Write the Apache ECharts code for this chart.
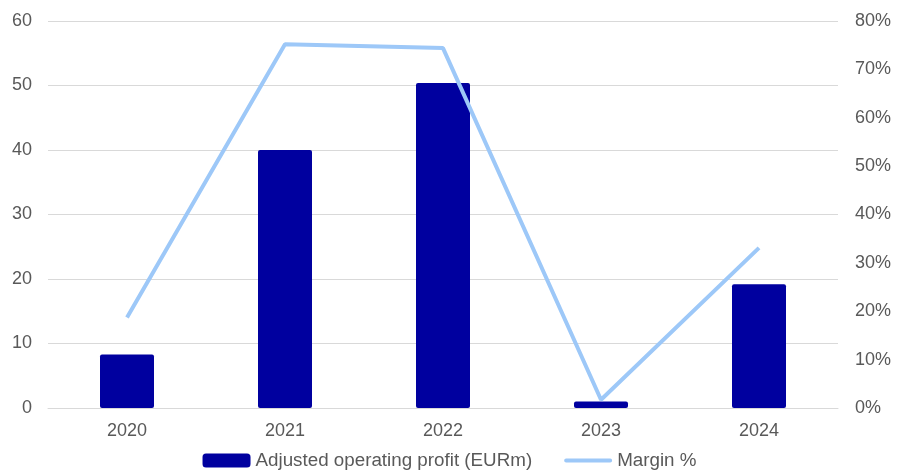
<!DOCTYPE html>
<html>
<head>
<meta charset="utf-8">
<script src="https://cdn.jsdelivr.net/npm/echarts@6/dist/echarts.min.js"></script>
<style>
  html, body { margin: 0; padding: 0; background: #fff; }
  #chart { width: 899px; height: 470px; }
</style>
</head>
<body>
<div id="chart"></div>
<script>
// Yearly figures
const years = ['2020', '2021', '2022', '2023', '2024'];
const operatingProfit = [8.3, 40.0, 50.4, 1.0, 19.2];   // EURm
const marginPct = [18.7, 75.2, 74.4, 1.7, 33.1];         // %

const labelColor = '#595959';
const gridColor = '#d9d9d9';
const barColor = '#00009f';
const lineColor = '#9dc8f8';
const font = 'Liberation Sans, Arial, sans-serif';

// Thin horizontal stroke for the line-series legend entry (tiny corner marks keep its box 48x14)
const lineIcon = 'path://M0,0L0.01,0L0.01,0.01ZM0,14L0.01,14L0.01,13.99ZM2,5H46A2,2 0 0 1 46,9H2A2,2 0 0 1 2,5Z';

const chart = echarts.init(document.getElementById('chart'));
chart.setOption({
  animation: false,
  grid: { left: 48, right: 61, top: 21, bottom: 62 },
  legend: {
    top: 446,
    left: 'center',
    itemWidth: 48,
    itemHeight: 14,
    itemGap: 32,
    textStyle: { color: labelColor, fontSize: 18.8, fontFamily: font },
    data: [
      { name: 'Adjusted operating profit (EURm)', icon: 'roundRect' },
      { name: 'Margin %', icon: lineIcon, itemStyle: { color: lineColor } }
    ]
  },
  xAxis: {
    type: 'category',
    data: years,
    z: 3,
    axisTick: { show: false },
    axisLine: { lineStyle: { color: gridColor, width: 1 } },
    axisLabel: { color: labelColor, fontSize: 18, fontFamily: font, margin: 14 }
  },
  yAxis: [
    {
      type: 'value', min: 0, max: 60, interval: 10,
      axisLine: { show: false }, axisTick: { show: false },
      splitLine: { lineStyle: { color: gridColor } },
      axisLabel: { color: labelColor, fontSize: 18, fontFamily: font, margin: 16 }
    },
    {
      type: 'value', min: 0, max: 80, interval: 10,
      axisLine: { show: false }, axisTick: { show: false },
      splitLine: { show: false },
      axisLabel: { color: labelColor, fontSize: 18, fontFamily: font, margin: 17, formatter: '{value}%' }
    }
  ],
  series: [
    {
      name: 'Adjusted operating profit (EURm)',
      type: 'bar',
      data: operatingProfit,
      barWidth: 54,
      itemStyle: { color: barColor, borderRadius: 2 }
    },
    {
      name: 'Margin %',
      type: 'line',
      yAxisIndex: 1,
      data: marginPct,
      symbol: 'none',
      lineStyle: { color: lineColor, width: 4 },
      itemStyle: { color: lineColor },
      z: 4
    }
  ]
});
</script>
</body>
</html>
